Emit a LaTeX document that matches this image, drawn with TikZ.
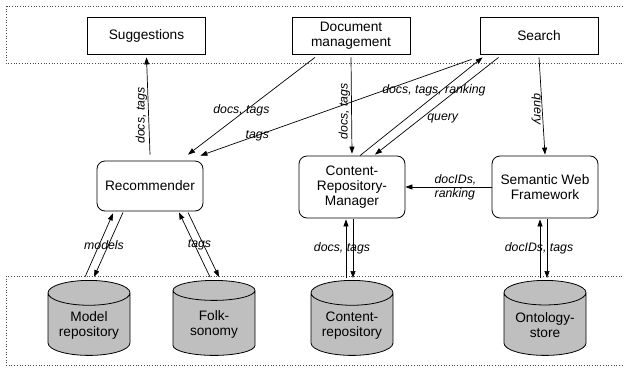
\documentclass[tikz,border=0pt]{standalone}
\usepackage{fontspec}
\setmainfont{Liberation Sans}
\usepackage{tikz}
\usetikzlibrary{shapes.geometric, arrows.meta, positioning, calc}

\begin{document}
\begin{tikzpicture}[
    x=1pt, y=1pt,
    box/.style={rectangle, draw, fill=white, line width=0.8pt, minimum width=118pt, minimum height=37pt, align=center, inner sep=1pt, font=\fontsize{13.7}{15}\selectfont},
    comp/.style={rectangle, draw, fill=white, rounded corners=8pt, line width=0.8pt, minimum width=106pt, align=center, inner sep=1pt, font=\fontsize{13.7}{15}\selectfont},
    store/.style={cylinder, shape border rotate=90, draw, fill=gray!50, line width=0.8pt, aspect=0.4, minimum width=82pt, minimum height=75pt, align=center, inner sep=1pt, anchor=north, font=\fontsize{13.7}{15}\selectfont},
    layer/.style={draw=black!70, dotted, line width=0.7pt},
    arrow/.style={-{Triangle[length=7pt,width=5pt]}, line width=0.7pt},
    lbl/.style={font=\fontsize{12.3}{14}\selectfont\itshape, inner sep=1pt}
]
    \useasboundingbox (0,0) rectangle (624,-367);

    % Layers
    \draw[layer] (6,-6) rectangle (630,-63);
    \draw[layer] (6,-276) rectangle (630,-365);

    % Front end
    \node[box] (sugg) at (146.5,-35.5) {Suggestions};
    \node[box] (docman) at (351,-35.5) {Document\\management};
    \node[box] (search) at (539,-35.5) {Search};

    % Components
    \node[comp, minimum height=50pt] (rec) at (150,-186) {Recommender};
    \node[comp, minimum height=62pt] (crm) at (352,-187) {Content-\\Repository-\\Manager};
    \node[comp, minimum height=62pt] (swf) at (545,-187) {Semantic Web\\Framework};

    % Stores
    \node[store] (modelrep) at (89,-280) {Model\\repository};
    \node[store] (folk) at (214,-280) {Folk-\\sonomy};
    \node[store] (contrep) at (352,-280) {Content-\\repository};
    \node[store] (onto) at (545,-280) {Ontology-\\store};

    % Flows to the front end
    \draw[arrow] ([yshift=6]rec.north) -- node[pos=0.4, rotate=90, anchor=south, lbl] {docs, tags} ([yshift=-3]sugg.south);
    \draw[arrow] ([xshift=-36,yshift=-3]docman.south) -- node[pos=0.54, xshift=-5, lbl] {docs, tags} ([xshift=38,yshift=6]rec.north);
    \draw[arrow] ([xshift=-8,yshift=-5]search.south west) -- node[pos=0.79, lbl] {tags} ([xshift=-3,yshift=5]rec.north east);
    \draw[arrow] ([yshift=-3]docman.south) -- node[pos=0.56, rotate=90, anchor=south, lbl] {docs, tags} ([yshift=2]crm.north);
    \draw[arrow] ([xshift=8]crm.north) -- node[pos=0.66, xshift=-7, lbl] {docs, tags, ranking} ([xshift=3,yshift=-3]search.south west);
    \draw[arrow] ([xshift=19,yshift=-3]search.south west) -- node[pos=0.63, xshift=22, lbl] {query} ([xshift=23,yshift=1]crm.north);
    \draw[arrow] ([yshift=-3]search.south) -- node[pos=0.53, rotate=-90, anchor=north, lbl] {query} ([yshift=1]swf.north);
    \draw[arrow] (swf.west) -- node[midway, xshift=7, align=left, lbl] {docIDs,\\ranking} (crm.east);

    % Flows to the stores
    \draw[arrow] ([xshift=-4,yshift=3]modelrep.north) -- node[midway, xshift=5, lbl] {models} ([xshift=-37,yshift=-2]rec.south);
    \draw[arrow] ([xshift=-27,yshift=-1]rec.south) -- ([xshift=5,yshift=3]modelrep.north);
    \draw[arrow] ([xshift=-4,yshift=3]folk.north) -- node[midway, xshift=5, lbl] {tags} ([xshift=29,yshift=-1]rec.south);
    \draw[arrow] ([xshift=38,yshift=-1]rec.south) -- ([xshift=5,yshift=3]folk.north);
    \draw[arrow] ([xshift=-6,yshift=2]contrep.north) -- node[midway, xshift=-4, lbl] {docs, tags} ([xshift=-6,yshift=-1]crm.south);
    \draw[arrow] ([xshift=1,yshift=-1]crm.south) -- ([xshift=1,yshift=2]contrep.north);
    \draw[arrow] ([xshift=-5,yshift=2]onto.north) -- node[midway, xshift=-1, lbl] {docIDs, tags} ([xshift=-5,yshift=-1]swf.south);
    \draw[arrow] ([xshift=2,yshift=-1]swf.south) -- ([xshift=2,yshift=2]onto.north);
\end{tikzpicture}
\end{document}
